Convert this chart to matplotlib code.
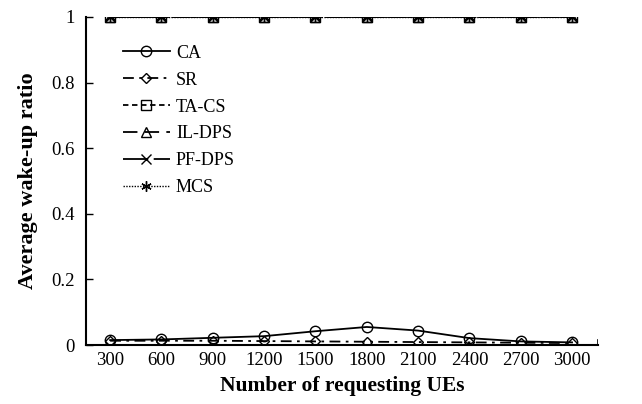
import matplotlib
matplotlib.use("Agg")
import matplotlib.pyplot as plt

plt.rcParams['font.family'] = ['Liberation Serif', 'DejaVu Serif']

ues = [300, 600, 900, 1200, 1500, 1800, 2100, 2400, 2700, 3000]
ca = [0.015, 0.017, 0.022, 0.027, 0.042, 0.055, 0.044, 0.021, 0.011, 0.008]
sr = [0.013, 0.013, 0.013, 0.012, 0.011, 0.010, 0.009, 0.008, 0.007, 0.006]
ta_cs = [1, 1, 1, 1, 1, 1, 1, 1, 1, 1]
il_dps = [1, 1, 1, 1, 1, 1, 1, 1, 1, 1]
pf_dps = [1, 1, 1, 1, 1, 1, 1, 1, 1, 1]
mcs = [1, 1, 1, 1, 1, 1, 1, 1, 1, 1]
yticks = [0, 0.2, 0.4, 0.6, 0.8, 1]

fig = plt.figure(figsize=(6.42, 4.04), dpi=100)
ax = fig.add_axes([0.134, 0.146, 0.797, 0.812])
x = list(range(len(ues)))

style = dict(color='black', lw=1.3, markersize=7.5, markerfacecolor='none',
             markeredgewidth=1.0)
ax.plot(x, ca, linestyle='-', marker='o', label='CA', **style)
ax.plot(x, sr, linestyle=(0, (6, 3, 1.5, 3)), marker='D', label='SR',
        **{**style, 'markersize': 5.5})
ax.plot(x, ta_cs, linestyle=(0, (3, 2)), marker='s', label='TA-CS', **style)
ax.plot(x, il_dps, linestyle=(0, (8, 4)), marker='^', label='IL-DPS', **style)
ax.plot(x, pf_dps, linestyle=(0, (14, 3)), marker='x', label='PF-DPS', **style)
ax.plot(x, mcs, linestyle=(0, (1, 1)), marker=(6, 2, 0), label='MCS',
        **{**style, 'lw': 1.0})

ax.set_xlim(-0.47, 9.5)
ax.set_ylim(0, 1)
ax.set_xticks(x)
ax.set_xticklabels([str(v) for v in ues])
ax.set_yticks(yticks)
ax.set_yticklabels(['0', '0.2', '0.4', '0.6', '0.8', '1'])
ax.tick_params(axis='x', length=0, labelsize=13.5, pad=5)
ax.tick_params(axis='y', direction='in', length=5, width=1, labelsize=13.5, pad=8)
for s in ['top', 'right']:
    ax.spines[s].set_visible(False)
for s in ['left', 'bottom']:
    ax.spines[s].set_linewidth(1.5)
ax.axvline(9.5, ymin=0, ymax=0.015, color='black', lw=1.2)

ax.set_xlabel('Number of requesting UEs', fontsize=15.5, fontweight='bold', labelpad=5)
ax.set_ylabel('Average wake-up ratio', fontsize=16, fontweight='bold', labelpad=10)

ax.legend(loc='upper left', bbox_to_anchor=(0.04, 0.965), frameon=False,
          fontsize=13, handlelength=2.6, numpoints=1, labelspacing=0.55,
          handletextpad=0.35)

fig.savefig('out.png', dpi=100)
